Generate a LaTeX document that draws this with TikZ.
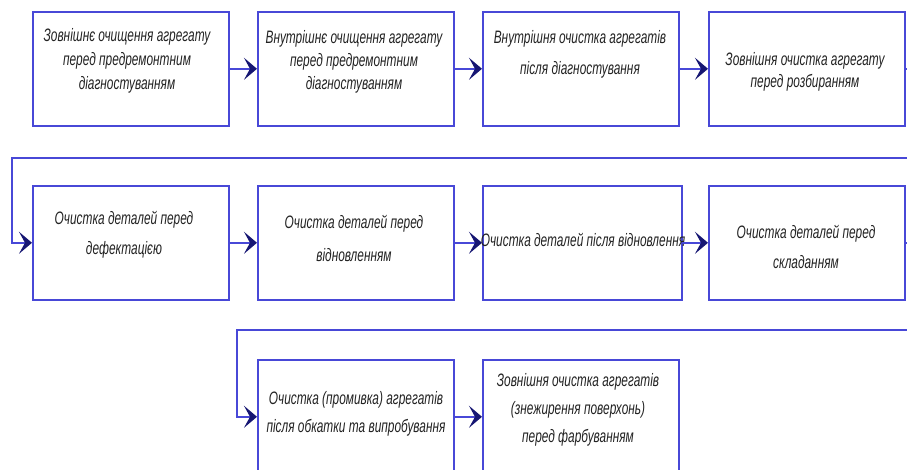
\documentclass[tikz,border=0pt]{standalone}
\usepackage{fontspec}
\setmainfont{Liberation Sans}[FakeStretch=0.66]
\usetikzlibrary{arrows.meta}
\definecolor{lineblue}{RGB}{72,72,215}
\definecolor{navyhead}{RGB}{22,22,115}
\definecolor{txtgray}{RGB}{35,35,35}
\tikzset{
  box/.style={draw=lineblue, line width=1.6pt, minimum width=196pt, minimum height=114pt, inner sep=0pt, anchor=north west},
  lbl/.style={align=center, text=txtgray, inner sep=0pt, font=\fontsize{18}{#1}\selectfont\itshape},
  lbl/.default=26pt,
  flow/.style={draw=lineblue, line width=1.6pt, -{Stealth[length=13pt,width=22pt,inset=6pt,fill=navyhead,color=navyhead]}}
}
\begin{document}
\begin{tikzpicture}[x=1pt,y=1pt]
\clip (0,0) rectangle (907,-470);
\fill[white] (0,0) rectangle (907,-470);
% row 1
\node[box] (b1) at (32,-11) {};
\node[box] (b2) at (257,-11) {};
\node[box] (b3) at (482,-11) {};
\node[box] (b4) at (708,-11) {};
% row 2
\node[box] (b5) at (32,-185) {};
\node[box] (b6) at (257,-185) {};
\node[box, minimum width=199pt] (b7) at (482,-185) {};
\node[box] (b8) at (708,-185) {};
% row 3
\node[box] (b9) at (257,-359) {};
\node[box] (b10) at (482,-359) {};
% texts
\node[lbl=24pt] (t1) at (127,-61) {Зовнішнє очищення агрегату\\перед предремонтним\\діагностуванням};
\node[lbl=23pt] (t2) at (354,-62) {Внутрішнє очищення агрегату\\перед предремонтним\\діагностуванням};
\node[lbl=31pt] (t3) at (580,-54) {Внутрішня очистка агрегатів\\після діагностування};
\node[lbl=22pt] (t4) at (805,-72) {Зовнішня очистка агрегату\\перед розбиранням};
\node[lbl=30pt] (t5) at (124,-235) {Очистка деталей перед\\дефектацією};
\node[lbl=33pt] (t6) at (354,-238) {Очистка деталей перед\\відновленням};
\node[lbl] (t7) at (583,-240) {Очистка деталей після відновлення};
\node[lbl=30pt] (t8) at (806,-247) {Очистка деталей перед\\складанням};
\node[lbl=28pt] (t9) at (356,-414) {Очистка (промивка) агрегатів\\після обкатки та випробування};
\node[lbl=28pt] (t10) at (578,-410) {Зовнішня очистка агрегатів\\(знежирення поверхонь)\\перед фарбуванням};
% connectors
\draw[flow] (b1.east) -- (b2.west);
\draw[flow] (b2.east) -- (b3.west);
\draw[flow] (b3.east) -- (b4.west);
\coordinate (r1) at (930,-158);
\coordinate (l1) at (12,-158);
\draw[flow] (b4.east) -| (r1) -- (l1) |- (b5.west);
\draw[flow] (b5.east) -- (b6.west);
\draw[flow] (b6.east) -- (b7.west);
\draw[flow] (b7.east) -- (b8.west);
\coordinate (r2) at (930,-330);
\coordinate (l2) at (237,-330);
\draw[flow] (b8.east) -| (r2) -- (l2) |- (b9.west);
\draw[flow] (b9.east) -- (b10.west);
\end{tikzpicture}
\end{document}
